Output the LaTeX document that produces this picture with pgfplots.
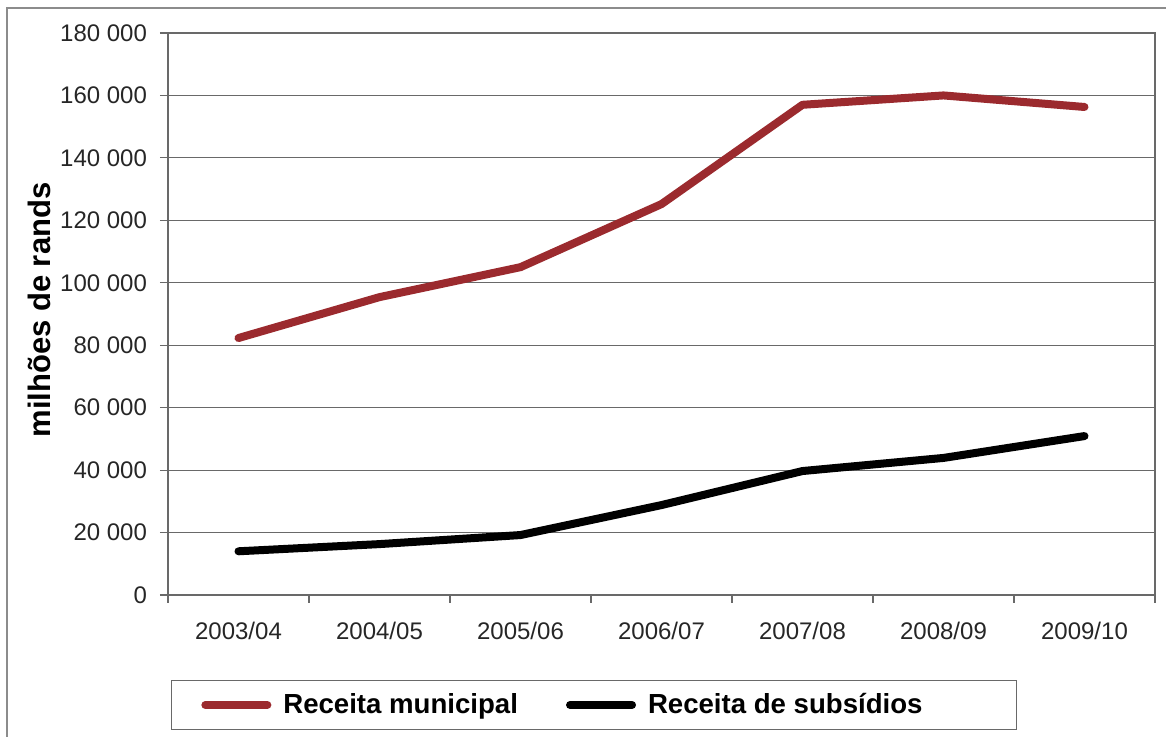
\documentclass[border=0pt]{standalone}
\usepackage{fontspec}
\setmainfont{Liberation Sans}
\usepackage{pgfplots}
\pgfplotsset{compat=1.18}
\definecolor{redline}{RGB}{155,42,46}
\definecolor{axgray}{RGB}{105,105,105}
\definecolor{framegray}{RGB}{140,140,140}

\begin{document}
\begin{tikzpicture}
\useasboundingbox (-84pt,-71pt) rectangle (499pt,297.5pt);
\begin{scope}
\clip (-84pt,-71pt) rectangle (499pt,297.5pt);
\draw[framegray, line width=1pt] (-80.5pt,-100pt) rectangle (520pt,293.5pt);
\end{scope}
\begin{axis}[
  at={(0,0)}, anchor=south west, scale only axis,
  width=493.5pt, height=281pt,
  xmin=-0.5, xmax=6.5, ymin=0, ymax=180000,
  scaled y ticks=false,
  xtick={0,1,2,3,4,5,6},
  xticklabels={2003/04,2004/05,2005/06,2006/07,2007/08,2008/09,2009/10},
  minor xtick={-0.5,0.5,1.5,2.5,3.5,4.5,5.5,6.5},
  ytick={0,20000,40000,60000,80000,100000,120000,140000,160000,180000},
  yticklabels={0,20 000,40 000,60 000,80 000,100 000,120 000,140 000,160 000,180 000},
  xtick pos=bottom, ytick pos=left,
  tick align=outside,
  major tick length=4pt, minor tick length=4pt,
  xtick style={draw=none},
  minor x tick style={draw=axgray, line width=0.6pt},
  y tick style={draw=axgray, line width=0.6pt},
  axis line style={draw=axgray, line width=0.8pt},
  ymajorgrids, grid style={draw=axgray, line width=0.6pt},
  ticklabel style={font=\fontsize{12}{14}\selectfont, text=black!85},
  xticklabel style={yshift=-6pt},
  yticklabel style={xshift=-3pt},
  ylabel={milhões de rands},
  ylabel style={at={(axis description cs:-0.13,0.507)}, anchor=center, font=\bfseries\fontsize{15.5}{18}\selectfont},
  legend columns=2,
  legend style={at={(axis description cs:0.4316,-0.1957)}, anchor=center,
    draw=axgray, line width=0.8pt, inner xsep=15pt, inner ysep=4.5pt,
    font=\bfseries\fontsize{13.8}{16}\selectfont,
    /tikz/every odd column/.append style={column sep=4pt},
    /tikz/every even column/.append style={column sep=22pt}},
  legend image code/.code={\draw[#1, line width=4pt, line cap=round] (2pt,0pt) -- (33pt,0pt);},
]
\addplot[redline, line width=4pt, line join=round, line cap=round] coordinates {
 (0,82300) (1,95400) (2,105000) (3,125200) (4,157000) (5,160000) (6,156300)};
\addlegendentry{Receita municipal}
\addplot[black, line width=4pt, line join=round, line cap=round] coordinates {
 (0,14000) (1,16300) (2,19200) (3,28800) (4,39700) (5,43900) (6,50900)};
\addlegendentry{Receita de subsídios\hspace*{30pt}}
\end{axis}
\end{tikzpicture}
\end{document}
